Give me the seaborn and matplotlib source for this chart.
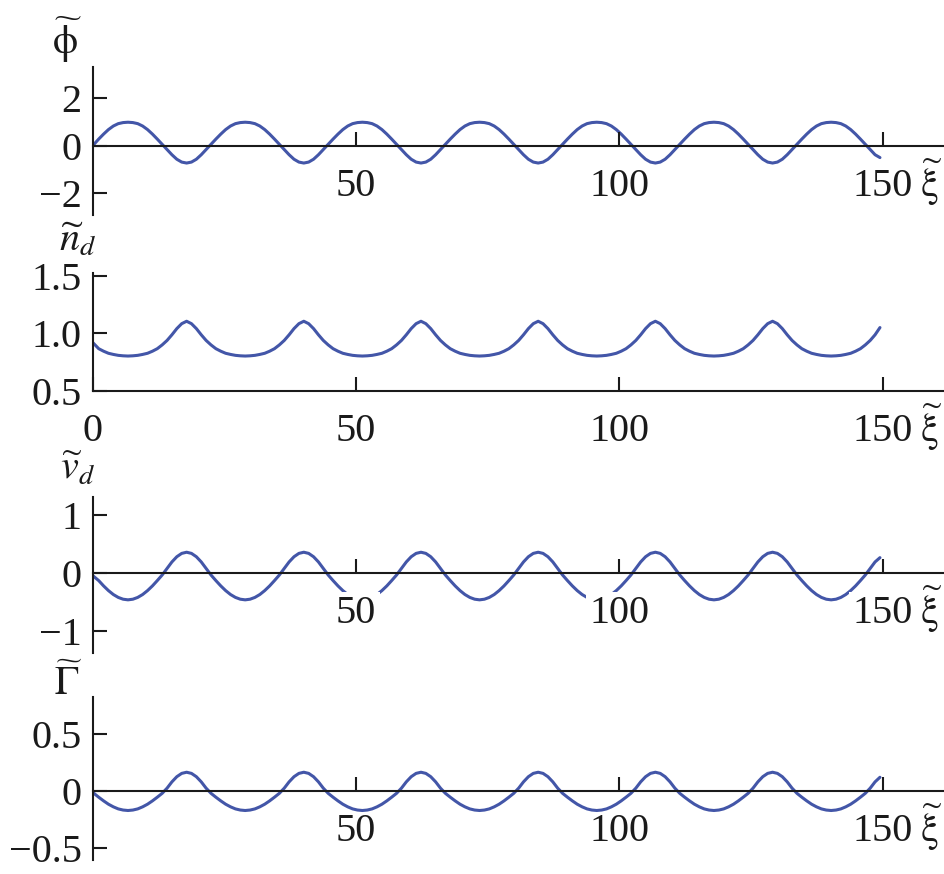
import numpy as np
import matplotlib
matplotlib.use("Agg")
import matplotlib.pyplot as plt
import seaborn as sns

# =============================
# DATA
# =============================

xi = [0.00, 1.14, 2.07, 2.99, 3.92, 4.85, 5.77,
      6.70, 7.63, 8.55, 9.48, 10.41, 11.34, 12.26, 13.19, 14.12, 15.04, 15.97, 16.90,
      17.83, 18.75, 19.68, 20.61, 21.53, 22.46, 23.39, 24.32, 25.24, 26.17, 27.10, 28.02,
      28.95, 29.88, 30.80, 31.73, 32.66, 33.59, 34.51, 35.44, 36.37, 37.29, 38.22, 39.15,
      40.08, 41.00, 41.93, 42.86, 43.78, 44.71, 45.64, 46.57, 47.49, 48.42, 49.35, 50.27,
      51.20, 52.13, 53.05, 53.98, 54.91, 55.84, 56.76, 57.69, 58.62, 59.54, 60.47, 61.40,
      62.33, 63.25, 64.18, 65.11, 66.03, 66.96, 67.89, 68.82, 69.74, 70.67, 71.60, 72.52,
      73.45, 74.38, 75.30, 76.23, 77.16, 78.09, 79.01, 79.94, 80.87, 81.79, 82.72, 83.65,
      84.58, 85.50, 86.43, 87.36, 88.28, 89.21, 90.14, 91.07, 91.99, 92.92, 93.85, 94.77,
      95.70, 96.63, 97.55, 98.48, 99.41, 100.34, 101.26, 102.19, 103.12, 104.04, 104.97, 105.90,
      106.83, 107.75, 108.68, 109.61, 110.53, 111.46, 112.39, 113.32, 114.24, 115.17, 116.10, 117.02,
      117.95, 118.88, 119.80, 120.73, 121.66, 122.59, 123.51, 124.44, 125.37, 126.29, 127.22, 128.15,
      129.08, 130.00, 130.93, 131.86, 132.78, 133.71, 134.64, 135.57, 136.49, 137.42, 138.35, 139.27,
      140.20, 141.13, 142.05, 142.98, 143.91, 144.84, 145.76, 146.69, 147.62, 148.54, 149.47]

phi = [0.00, 0.28, 0.49, 0.68, 0.83, 0.93, 0.975,
       0.99, 0.975, 0.93, 0.83, 0.68, 0.49, 0.28, 0.06, -0.16, -0.38, -0.57, -0.69,
       -0.73, -0.69, -0.57, -0.38, -0.16, 0.06, 0.28, 0.49, 0.68, 0.83, 0.93, 0.975,
       0.99, 0.975, 0.93, 0.83, 0.68, 0.49, 0.28, 0.06, -0.16, -0.38, -0.57, -0.69,
       -0.73, -0.69, -0.57, -0.38, -0.16, 0.06, 0.28, 0.49, 0.68, 0.83, 0.93, 0.975,
       0.99, 0.975, 0.93, 0.83, 0.68, 0.49, 0.28, 0.06, -0.16, -0.38, -0.57, -0.69,
       -0.73, -0.69, -0.57, -0.38, -0.16, 0.06, 0.28, 0.49, 0.68, 0.83, 0.93, 0.975,
       0.99, 0.975, 0.93, 0.83, 0.68, 0.49, 0.28, 0.06, -0.16, -0.38, -0.57, -0.69,
       -0.73, -0.69, -0.57, -0.38, -0.16, 0.06, 0.28, 0.49, 0.68, 0.83, 0.93, 0.975,
       0.99, 0.975, 0.93, 0.83, 0.68, 0.49, 0.28, 0.06, -0.16, -0.38, -0.57, -0.69,
       -0.73, -0.69, -0.57, -0.38, -0.16, 0.06, 0.28, 0.49, 0.68, 0.83, 0.93, 0.975,
       0.99, 0.975, 0.93, 0.83, 0.68, 0.49, 0.28, 0.06, -0.16, -0.38, -0.57, -0.69,
       -0.73, -0.69, -0.57, -0.38, -0.16, 0.06, 0.28, 0.49, 0.68, 0.83, 0.93, 0.975,
       0.99, 0.975, 0.93, 0.83, 0.68, 0.49, 0.28, 0.06, -0.16, -0.38, -0.50]

n_d = [0.920, 0.866, 0.844, 0.826, 0.816, 0.808, 0.804,
       0.802, 0.804, 0.808, 0.816, 0.826, 0.844, 0.866, 0.899, 0.938, 0.987, 1.041, 1.084,
       1.105, 1.084, 1.041, 0.987, 0.938, 0.899, 0.866, 0.844, 0.826, 0.816, 0.808, 0.804,
       0.802, 0.804, 0.808, 0.816, 0.826, 0.844, 0.866, 0.899, 0.938, 0.987, 1.041, 1.084,
       1.105, 1.084, 1.041, 0.987, 0.938, 0.899, 0.866, 0.844, 0.826, 0.816, 0.808, 0.804,
       0.802, 0.804, 0.808, 0.816, 0.826, 0.844, 0.866, 0.899, 0.938, 0.987, 1.041, 1.084,
       1.105, 1.084, 1.041, 0.987, 0.938, 0.899, 0.866, 0.844, 0.826, 0.816, 0.808, 0.804,
       0.802, 0.804, 0.808, 0.816, 0.826, 0.844, 0.866, 0.899, 0.938, 0.987, 1.041, 1.084,
       1.105, 1.084, 1.041, 0.987, 0.938, 0.899, 0.866, 0.844, 0.826, 0.816, 0.808, 0.804,
       0.802, 0.804, 0.808, 0.816, 0.826, 0.844, 0.866, 0.899, 0.938, 0.987, 1.041, 1.084,
       1.105, 1.084, 1.041, 0.987, 0.938, 0.899, 0.866, 0.844, 0.826, 0.816, 0.808, 0.804,
       0.802, 0.804, 0.808, 0.816, 0.826, 0.844, 0.866, 0.899, 0.938, 0.987, 1.041, 1.084,
       1.105, 1.084, 1.041, 0.987, 0.938, 0.899, 0.866, 0.844, 0.826, 0.816, 0.808, 0.804,
       0.802, 0.804, 0.808, 0.816, 0.826, 0.844, 0.866, 0.899, 0.938, 0.987, 1.050]

v_d = [-0.040, -0.127, -0.219, -0.300, -0.368, -0.418, -0.449,
       -0.460, -0.449, -0.418, -0.368, -0.300, -0.219, -0.127, -0.030, 0.084, 0.196, 0.286, 0.344,
       0.364, 0.344, 0.286, 0.196, 0.084, -0.030, -0.127, -0.219, -0.300, -0.368, -0.418, -0.449,
       -0.460, -0.449, -0.418, -0.368, -0.300, -0.219, -0.127, -0.030, 0.084, 0.196, 0.286, 0.344,
       0.364, 0.344, 0.286, 0.196, 0.084, -0.030, -0.127, -0.219, -0.300, -0.368, -0.418, -0.449,
       -0.460, -0.449, -0.418, -0.368, -0.300, -0.219, -0.127, -0.030, 0.084, 0.196, 0.286, 0.344,
       0.364, 0.344, 0.286, 0.196, 0.084, -0.030, -0.127, -0.219, -0.300, -0.368, -0.418, -0.449,
       -0.460, -0.449, -0.418, -0.368, -0.300, -0.219, -0.127, -0.030, 0.084, 0.196, 0.286, 0.344,
       0.364, 0.344, 0.286, 0.196, 0.084, -0.030, -0.127, -0.219, -0.300, -0.368, -0.418, -0.449,
       -0.460, -0.449, -0.418, -0.368, -0.300, -0.219, -0.127, -0.030, 0.084, 0.196, 0.286, 0.344,
       0.364, 0.344, 0.286, 0.196, 0.084, -0.030, -0.127, -0.219, -0.300, -0.368, -0.418, -0.449,
       -0.460, -0.449, -0.418, -0.368, -0.300, -0.219, -0.127, -0.030, 0.084, 0.196, 0.286, 0.344,
       0.364, 0.344, 0.286, 0.196, 0.084, -0.030, -0.127, -0.219, -0.300, -0.368, -0.418, -0.449,
       -0.460, -0.449, -0.418, -0.368, -0.300, -0.219, -0.127, -0.030, 0.084, 0.196, 0.270]

gamma = [-0.012, -0.054, -0.086, -0.115, -0.138, -0.156, -0.166,
         -0.170, -0.166, -0.156, -0.138, -0.115, -0.086, -0.054, -0.020, 0.025, 0.080, 0.125, 0.154,
         0.164, 0.154, 0.125, 0.080, 0.025, -0.020, -0.054, -0.086, -0.115, -0.138, -0.156, -0.166,
         -0.170, -0.166, -0.156, -0.138, -0.115, -0.086, -0.054, -0.020, 0.025, 0.080, 0.125, 0.154,
         0.164, 0.154, 0.125, 0.080, 0.025, -0.020, -0.054, -0.086, -0.115, -0.138, -0.156, -0.166,
         -0.170, -0.166, -0.156, -0.138, -0.115, -0.086, -0.054, -0.020, 0.025, 0.080, 0.125, 0.154,
         0.164, 0.154, 0.125, 0.080, 0.025, -0.020, -0.054, -0.086, -0.115, -0.138, -0.156, -0.166,
         -0.170, -0.166, -0.156, -0.138, -0.115, -0.086, -0.054, -0.020, 0.025, 0.080, 0.125, 0.154,
         0.164, 0.154, 0.125, 0.080, 0.025, -0.020, -0.054, -0.086, -0.115, -0.138, -0.156, -0.166,
         -0.170, -0.166, -0.156, -0.138, -0.115, -0.086, -0.054, -0.020, 0.025, 0.080, 0.125, 0.154,
         0.164, 0.154, 0.125, 0.080, 0.025, -0.020, -0.054, -0.086, -0.115, -0.138, -0.156, -0.166,
         -0.170, -0.166, -0.156, -0.138, -0.115, -0.086, -0.054, -0.020, 0.025, 0.080, 0.125, 0.154,
         0.164, 0.154, 0.125, 0.080, 0.025, -0.020, -0.054, -0.086, -0.115, -0.138, -0.156, -0.166,
         -0.170, -0.166, -0.156, -0.138, -0.115, -0.086, -0.054, -0.020, 0.025, 0.080, 0.120]

var_labels = [r"$\widetilde{\mathrm{\phi}}$", r"$\widetilde{n}_d$", r"$\widetilde{v}_d$",
              r"$\widetilde{\Gamma}$"]
y_ticks = [[-2, 0, 2], [0.5, 1.0, 1.5], [-1, 0, 1], [-0.5, 0, 0.5]]
y_ticklabels = [["\u22122", "0", "2"], ["0.5", "1.0", "1.5"],
                ["\u22121", "0", "1"], ["\u22120.5", "0", "0.5"]]
x_ticks = [[50, 100, 150], [0, 50, 100, 150], [50, 100, 150], [50, 100, 150]]

# =============================
# STYLE
# =============================

sns.set_theme(style="white")
plt.rcParams["font.family"] = ["Liberation Serif", "DejaVu Serif"]
plt.rcParams["mathtext.fontset"] = "stix"

LINE_COLOR = "#4356a8"
AX_COLOR = "#1a1a1a"
FS = 29

W, H = 945, 874
# (top px, bottom px, ylim) of every panel
panels = [(66.7, 215.0, (-2.92, 3.33)),
          (272.7, 390.7, (0.5, 1.528)),
          (496.7, 653.0, (-1.38, 1.325)),
          (697.3, 860.0, (-0.602, 0.818))]
label_pos = [(67, 40), (78, 241), (78, 470), (68, 684)]
series = [phi, n_d, v_d, gamma]

fig = plt.figure(figsize=(W / 100, H / 100), dpi=100)

for i, (top, bot, ylim) in enumerate(panels):
    left = 92.7 / W
    ax = fig.add_axes([left, (H - bot) / H, 1 - left, (bot - top) / H])
    sns.lineplot(x=xi, y=series[i], ax=ax, color=LINE_COLOR, linewidth=2.2)
    ax.set_xlim(0, (W - 92.7) / 5.267)
    ax.set_ylim(*ylim)

    for s in ["top", "right"]:
        ax.spines[s].set_visible(False)
    for s in ["left", "bottom"]:
        ax.spines[s].set_color(AX_COLOR)
        ax.spines[s].set_linewidth(1.5)
    if i != 1:
        ax.spines["bottom"].set_position(("data", 0))

    ax.set_axisbelow(False)
    ax.set_xticks(x_ticks[i])
    ax.set_xticklabels([str(t) for t in x_ticks[i]])
    ax.set_yticks(y_ticks[i])
    ax.set_yticklabels(y_ticklabels[i])
    ax.tick_params(axis="both", direction="in", length=10, width=1.5,
                   bottom=True, left=True,
                   color=AX_COLOR, labelcolor=AX_COLOR, labelsize=FS)
    ax.tick_params(axis="x", pad=16)
    ax.tick_params(axis="y", pad=8)
    if i == 2:
        # the labels of the v_d panel sit on a white box that hides the curve
        for lab in ax.get_xticklabels():
            lab.set_bbox(dict(facecolor="white", edgecolor="none", pad=2.5))
    ax.set_xlabel("")
    ax.set_ylabel("")

    y0 = 0 if i != 1 else ylim[0]
    ax.annotate(r"$\widetilde{\mathrm{\xi}}$", xy=(1, y0), xycoords=("axes fraction", "data"),
                xytext=(-2, -8), textcoords="offset points",
                ha="right", va="top", fontsize=FS, color=AX_COLOR)

    lx, ly = label_pos[i]
    fig.text(lx / W, 1 - ly / H, var_labels[i], ha="center", va="center",
             fontsize=FS, color=AX_COLOR)

fig.savefig("out.png", dpi=100)
